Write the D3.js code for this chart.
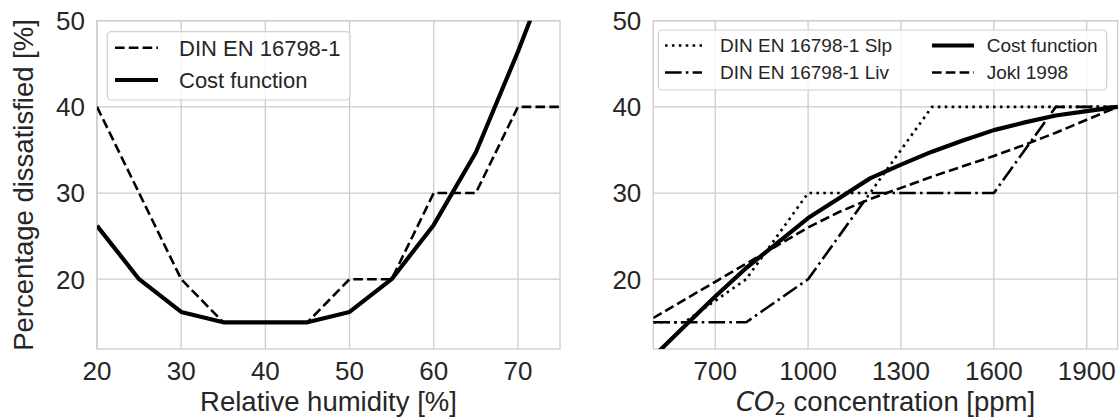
<!DOCTYPE html>
<html><head><meta charset="utf-8">
<script src="https://cdn.jsdelivr.net/npm/d3@7"></script>
<style>
body{margin:0;background:#fff}
text{font-family:"Liberation Sans",Arial,sans-serif;fill:#262626}
</style>
</head><body>
<svg id="c" width="1119" height="418"></svg>
<script>
// ---------- data ----------
const rhX     = [20,25,30,35,40,45,50,55,60,65,70,75];
const rhDIN   = [40,30,20,15,15,15,20,20,30,30,40,40];
const rhCost  = [26.2,20,16.2,15,15,15,16.2,20,26.3,34.7,46.4,59];
const rhTicks = [20,30,40,50,60,70];

const co2X    = [500,600,700,800,900,1000,1100,1200,1300,1400,1500,1600,1700,1800,1900,2000];
const co2Slp  = [15,15,17.5,20,25,30,30,30,35,40,40,40,40,40,40,40];
const co2Liv  = [15,15,15,15,17.5,20,25,30,30,30,30,30,35,40,40,40];
const co2Cost = [11.0,14.5,18.0,21.3,24.2,27.1,29.4,31.7,33.3,34.8,36.1,37.3,38.2,39.0,39.5,40.0];
const co2Jokl = [15.5,17.6,19.7,21.8,23.9,26.0,27.8,29.3,30.6,31.9,33.1,34.3,35.6,37.0,38.5,40.0];
const co2Ticks = [700,1000,1300,1600,1900];

const yTicks = [20,30,40,50];

const leftSeries = [
  {name:"DIN EN 16798-1", vals:rhDIN, style:"dashed"},
  {name:"Cost function", vals:rhCost, style:"solid"}
];
const rightSeries = [
  {name:"DIN EN 16798-1 Slp", vals:co2Slp, style:"dotted"},
  {name:"DIN EN 16798-1 Liv", vals:co2Liv, style:"dashdot"},
  {name:"Cost function", vals:co2Cost, style:"solid"},
  {name:"Jokl 1998", vals:co2Jokl, style:"dashed"}
];

// ---------- styles ----------
const styles = {
  solid:  {w:4.2, dash:null},
  dashed: {w:2.6, dash:"9.6,4.2"},
  dotted: {w:2.6, dash:"2.6,4.3"},
  dashdot:{w:2.6, dash:"16.6,4.2,2.6,4.2"}
};
const gridCol = "#cccccc";
const TICK_FS = 26, LABEL_FS = 27.5;

const svg = d3.select("#c");
const yTop = 20.7, yBot = 349;
const y = d3.scaleLinear().domain([11.9,50]).range([yBot, yTop]);

function panel(id, x, xs, series, ticks, xlabel) {
  const [x0,x1] = x.range();
  const g = svg.append("g");
  g.append("clipPath").attr("id","clip"+id).append("rect")
    .attr("x",x0).attr("y",yTop).attr("width",x1-x0).attr("height",yBot-yTop);
  // grid
  g.selectAll(".gx").data(ticks).join("line")
    .attr("x1",d=>x(d)).attr("x2",d=>x(d)).attr("y1",yTop).attr("y2",yBot)
    .attr("stroke",gridCol).attr("stroke-width",1.3);
  g.selectAll(".gy").data(yTicks).join("line")
    .attr("y1",d=>y(d)).attr("y2",d=>y(d)).attr("x1",x0).attr("x2",x1)
    .attr("stroke",gridCol).attr("stroke-width",1.3);
  // frame
  g.append("rect").attr("x",x0).attr("y",yTop).attr("width",x1-x0).attr("height",yBot-yTop)
    .attr("fill","none").attr("stroke",gridCol).attr("stroke-width",1.3);
  // tick labels
  g.selectAll(".tx").data(ticks).join("text")
    .attr("x",d=>x(d)).attr("y",380).attr("text-anchor","middle")
    .attr("font-size",TICK_FS).text(d=>d);
  g.selectAll(".ty").data(yTicks).join("text")
    .attr("x",x0-12).attr("y",d=>y(d)+9.4).attr("text-anchor","end")
    .attr("font-size",TICK_FS).text(d=>d);
  // lines
  const line = d3.line().x((d,i)=>x(xs[i])).y(d=>y(d));
  const lg = g.append("g").attr("clip-path","url(#clip"+id+")");
  series.forEach(s=>{
    const st = styles[s.style];
    lg.append("path").attr("d",line(s.vals)).attr("fill","none")
      .attr("stroke","#000").attr("stroke-width",st.w)
      .attr("stroke-dasharray",st.dash).attr("stroke-linejoin","round");
  });
  // x label
  const xl = g.append("text").attr("x",(x0+x1)/2).attr("y",411)
    .attr("text-anchor","middle").attr("font-size",LABEL_FS);
  if (typeof xlabel === "string") xl.text(xlabel);
  else xlabel(xl);
  return g;
}

const xL = d3.scaleLinear().domain([20,75]).range([97,560]);
const xR = d3.scaleLinear().domain([500,2000]).range([653.3,1117.7]);

panel("L", xL, rhX, leftSeries, rhTicks, "Relative humidity [%]");
panel("R", xR, co2X, rightSeries, co2Ticks, t=>{
  t.append("tspan").attr("font-family","DejaVu Sans").attr("font-style","italic")
    .attr("font-size",26).text("CO");
  t.append("tspan").attr("font-family","DejaVu Sans").attr("font-size",18).attr("dy",4).text("2");
  t.append("tspan").attr("dy",-4).text(" concentration [ppm]");
});

// y label
svg.append("text").attr("transform","translate(33,185) rotate(-90)")
  .attr("text-anchor","middle").attr("font-size",LABEL_FS)
  .text("Percentage dissatisfied [%]");

// legends
function legend(box, items, fs) {
  const g = svg.append("g");
  g.append("rect").attr("x",box.x).attr("y",box.y).attr("width",box.w).attr("height",box.h)
    .attr("rx",4).attr("fill","#fff").attr("fill-opacity",0.8)
    .attr("stroke","#d0d0d0").attr("stroke-width",1.2);
  items.forEach(it=>{
    const st = styles[it.s.style];
    g.append("line").attr("x1",it.hx).attr("x2",it.hx+it.hl).attr("y1",it.y).attr("y2",it.y)
      .attr("stroke","#000").attr("stroke-width",st.w).attr("stroke-dasharray",st.dash);
    g.append("text").attr("x",it.tx).attr("y",it.y+0.36*fs).attr("font-size",fs).text(it.s.name);
  });
}
legend({x:107.3,y:31.7,w:242.7,h:68.3}, [
  {s:leftSeries[0], hx:115, hl:43, tx:179, y:47.7},
  {s:leftSeries[1], hx:115, hl:43, tx:179, y:80}
], 22);
legend({x:658.3,y:30,w:448.4,h:60}, [
  {s:rightSeries[0], hx:665, hl:37, tx:720, y:45.5},
  {s:rightSeries[1], hx:665, hl:37, tx:720, y:72.5},
  {s:rightSeries[2], hx:932, hl:42, tx:986.7, y:45.5},
  {s:rightSeries[3], hx:932, hl:42, tx:986.7, y:72.5}
], 19);
</script>
</body></html>
